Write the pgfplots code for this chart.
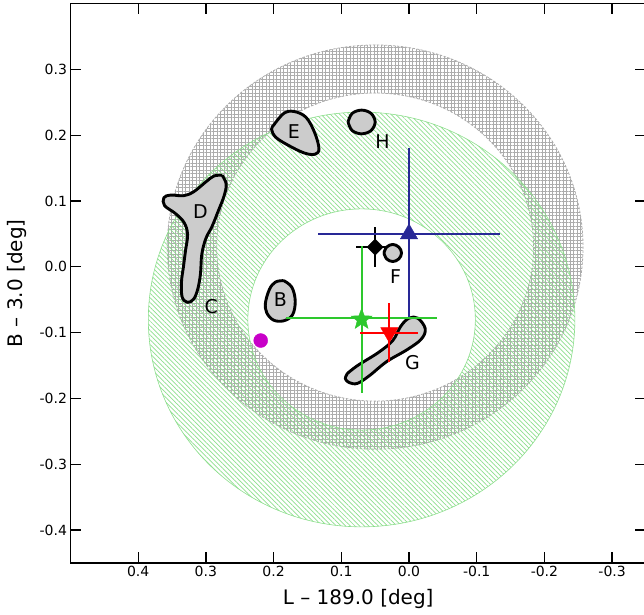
\documentclass[border=0pt]{standalone}
\usepackage{fontspec}
\setmainfont{DejaVu Sans}
\usepackage{pgfplots}
\pgfplotsset{compat=1.18}
\usetikzlibrary{patterns.meta}

\definecolor{ringgreen}{RGB}{140,222,140}
\definecolor{stargreen}{RGB}{45,200,45}
\definecolor{navy}{RGB}{40,40,150}
\definecolor{hatchgray}{RGB}{172,172,172}
\definecolor{magentadot}{RGB}{200,0,200}

\tikzset{
  blob/.style={draw=black, line width=2.9bp, fill=gray!40, smooth, tension=0.6, mark=none, line join=round},
  lab/.style={font=\fontsize{19bp}{22bp}\selectfont, inner sep=0pt},
  ebar/.style={line width=1.8bp, mark=none},
}

\pgfdeclareplotmark{fstar}{%
 \pgfpathmoveto{\pgfpointpolar{90}{\pgfplotmarksize}}%
 \pgfpathlineto{\pgfpointpolar{126}{0.42\pgfplotmarksize}}%
 \pgfpathlineto{\pgfpointpolar{162}{\pgfplotmarksize}}%
 \pgfpathlineto{\pgfpointpolar{198}{0.42\pgfplotmarksize}}%
 \pgfpathlineto{\pgfpointpolar{234}{\pgfplotmarksize}}%
 \pgfpathlineto{\pgfpointpolar{270}{0.42\pgfplotmarksize}}%
 \pgfpathlineto{\pgfpointpolar{306}{\pgfplotmarksize}}%
 \pgfpathlineto{\pgfpointpolar{342}{0.42\pgfplotmarksize}}%
 \pgfpathlineto{\pgfpointpolar{18}{\pgfplotmarksize}}%
 \pgfpathlineto{\pgfpointpolar{54}{0.42\pgfplotmarksize}}%
 \pgfpathclose\pgfusepathqfillstroke}

\begin{document}
\begin{tikzpicture}
\begin{axis}[
  scale only axis, width=576bp, height=560bp,
  x dir=reverse, xmin=-0.35, xmax=0.5, ymin=-0.45, ymax=0.4,
  xtick={-0.3,-0.2,-0.1,0,0.1,0.2,0.3,0.4},
  ytick={-0.4,-0.3,-0.2,-0.1,0,0.1,0.2,0.3},
  tick align=inside, major tick length=11bp,
  every tick/.style={black, line width=1.3bp},
  axis line style={line width=1.3bp},
  ticklabel style={font=\fontsize{14bp}{16bp}\selectfont},
  /pgf/number format/.cd, fixed, fixed zerofill, precision=1, assume math mode=true,
  /pgfplots/.cd,
  xlabel={L -- 189.0 [deg]}, ylabel={B -- 3.0 [deg]},
  label style={font=\fontsize{20bp}{24bp}\selectfont},
  xlabel style={at={(axis description cs:0.5,-0.0635)}, anchor=center},
  ylabel style={at={(axis description cs:-0.093,0.5)}, anchor=center},
]
\coordinate (bl) at (axis description cs:0,0);
\coordinate (tr) at (axis description cs:1,1);

% gray ring
\fill[pattern={Hatch[angle=0,distance=3.5bp,line width=0.45bp]}, pattern color=hatchgray, even odd rule]
  (axis cs:0.05,0.03) circle[radius=0.307] (axis cs:0.05,0.03) circle[radius=0.234];
\draw[hatchgray, line width=0.8bp, dash pattern=on 2.5bp off 1.5bp] (axis cs:0.05,0.03) circle[radius=0.307];
\draw[hatchgray, line width=0.8bp, dash pattern=on 2.5bp off 1.5bp] (axis cs:0.05,0.03) circle[radius=0.234];

% green ring
\fill[pattern={Lines[angle=-45,distance=3.3bp,line width=0.7bp]}, pattern color=ringgreen, even odd rule]
  (axis cs:0.07,-0.08) circle[radius=0.315] (axis cs:0.07,-0.08) circle[radius=0.168];
\draw[ringgreen, line width=0.6bp] (axis cs:0.07,-0.08) circle[radius=0.315];
\draw[ringgreen, line width=0.6bp] (axis cs:0.07,-0.08) circle[radius=0.168];

% black diamond error bars (under blob F)
\addplot[ebar, black] coordinates {(0.078,0.03) (0.022,0.03)};
\addplot[ebar, black] coordinates {(0.05,0.06) (0.05,0.0)};

% blobs
\addplot[blob] coordinates {
(0.276,0.139) (0.270,0.126) (0.273,0.108) (0.282,0.084) (0.291,0.061) (0.300,0.043)
(0.306,0.019) (0.308,-0.011) (0.312,-0.034) (0.318,-0.049) (0.327,-0.054) (0.335,-0.046)
(0.336,-0.023) (0.333,0.001) (0.330,0.025) (0.327,0.049) (0.332,0.067) (0.345,0.081)
(0.361,0.093) (0.362,0.105) (0.352,0.109) (0.333,0.108) (0.318,0.114) (0.300,0.129)
(0.288,0.138) (0.276,0.139)};
\addplot[blob] coordinates {
(0.200,0.215) (0.185,0.233) (0.170,0.236) (0.152,0.227) (0.139,0.203) (0.133,0.179)
(0.139,0.171) (0.155,0.173) (0.179,0.185) (0.197,0.197) (0.203,0.209) (0.200,0.215)};
\addplot[blob] coordinates {
(0.090,0.220) (0.084,0.233) (0.070,0.238) (0.056,0.233) (0.050,0.220) (0.056,0.207)
(0.070,0.202) (0.084,0.207) (0.090,0.220)};
\addplot[blob] coordinates {
(0.037,0.021) (0.033,0.030) (0.024,0.034) (0.015,0.030) (0.011,0.021) (0.015,0.012)
(0.024,0.008) (0.033,0.012) (0.037,0.021)};
\addplot[blob] coordinates {
(0.185,-0.021) (0.173,-0.031) (0.168,-0.052) (0.172,-0.073) (0.185,-0.082) (0.200,-0.081)
(0.210,-0.070) (0.212,-0.055) (0.206,-0.034) (0.197,-0.023) (0.185,-0.021)};
\addplot[blob] coordinates {
(0.091,-0.162) (0.076,-0.150) (0.045,-0.130) (0.024,-0.112) (0.012,-0.090) (0.000,-0.078)
(-0.013,-0.078) (-0.024,-0.094) (-0.018,-0.110) (0.003,-0.126) (0.033,-0.144) (0.058,-0.165)
(0.076,-0.177) (0.088,-0.176) (0.094,-0.170) (0.091,-0.162)};

% error bars
\addplot[ebar, navy] coordinates {(0.134,0.05) (-0.134,0.05)};
\addplot[ebar, navy] coordinates {(0.0,0.18) (0.0,-0.08)};
\addplot[ebar, stargreen, line width=2bp] coordinates {(0.182,-0.0785) (-0.042,-0.0785)};
\addplot[ebar, stargreen] coordinates {(0.07,0.031) (0.07,-0.191)};
\addplot[ebar, red] coordinates {(0.072,-0.10) (-0.014,-0.10)};
\addplot[ebar, red] coordinates {(0.029,-0.055) (0.029,-0.145)};

% markers
\addplot[only marks, mark=square*, mark size=5.7bp, mark options={rotate=45}, color=black]
  coordinates {(0.05,0.03)};
\addplot[only marks, mark=triangle*, mark size=10bp, color=navy]
  coordinates {(0.0,0.05)};
\addplot[only marks, mark=fstar, mark size=11bp, color=stargreen]
  coordinates {(0.07,-0.08)};
\addplot[only marks, mark=triangle*, mark size=10bp, mark options={rotate=180}, color=red]
  coordinates {(0.029,-0.10)};
\addplot[only marks, mark=*, mark size=7bp, color=magentadot] coordinates {(0.219,-0.112)};

% labels
\node[lab] at (axis cs:0.308,0.084) {D};
\node[lab] at (axis cs:0.292,-0.060) {C};
\node[lab] at (axis cs:0.170,0.205) {E};
\node[lab] at (axis cs:0.039,0.190) {H};
\node[lab] at (axis cs:0.020,-0.015) {F};
\node[lab] at (axis cs:0.190,-0.050) {B};
\node[lab] at (axis cs:-0.005,-0.146) {G};
\end{axis}
\pgfresetboundingbox
\useasboundingbox ([shift={(-70.5bp,-51bp)}]bl) rectangle ([shift={(-2bp,3.5bp)}]tr);
\end{tikzpicture}
\end{document}
